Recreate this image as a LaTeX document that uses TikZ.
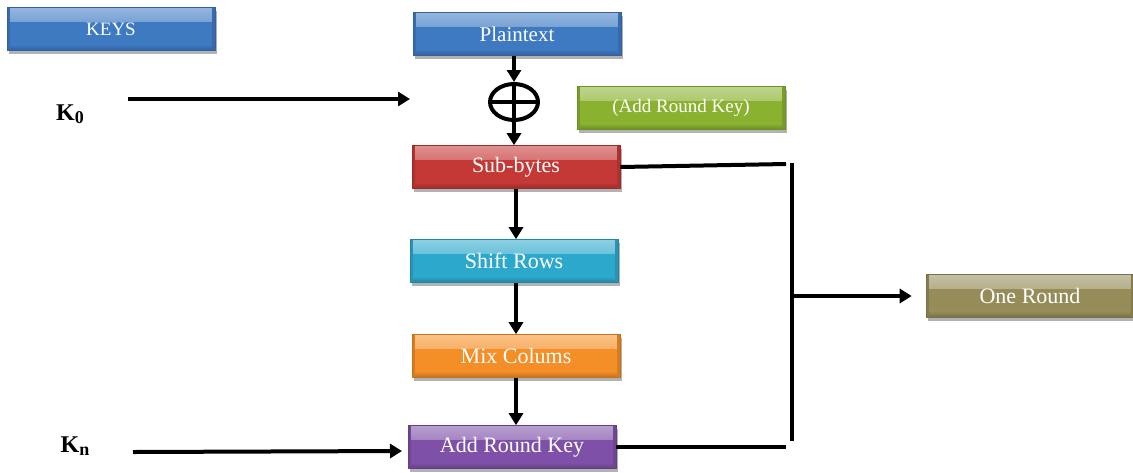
\documentclass[tikz,border=0pt]{standalone}
\usepackage{fontspec}
\setmainfont{Liberation Serif}
\usetikzlibrary{arrows.meta,shadows,shapes.geometric}

\definecolor{cblue}{RGB}{62,122,194}
\definecolor{cred}{RGB}{196,56,54}
\definecolor{ccyan}{RGB}{44,168,204}
\definecolor{corange}{RGB}{244,142,38}
\definecolor{cpurple}{RGB}{126,80,168}
\definecolor{cgreen}{RGB}{138,178,48}
\definecolor{colive}{RGB}{150,140,90}

\tikzset{
  stage/.style={rectangle, minimum width=104pt, minimum height=21.5pt,
    inner sep=0pt, text=white, font=\fontsize{11}{13}\selectfont,
    draw=#1!80!black, line width=0.3pt, fill=#1,
    path picture={
      \fill[top color=#1!55!white, bottom color=#1]
        (path picture bounding box.north west) rectangle
        ([yshift=-7pt]path picture bounding box.north east);
      \fill[top color=#1, bottom color=#1!78!black]
        ([yshift=3pt]path picture bounding box.south west) rectangle
        (path picture bounding box.south east);
      \fill[#1!88!black]
        (path picture bounding box.south west) rectangle
        ([xshift=1.5pt]path picture bounding box.north west);
      \fill[#1!88!black]
        (path picture bounding box.south east) rectangle
        ([xshift=-1.5pt]path picture bounding box.north east);
    },
    drop shadow={shadow xshift=1pt, shadow yshift=-1.5pt, opacity=0.3, fill=black}},
  flow/.style={line width=2pt, -{Triangle[length=6pt,width=7pt]}},
  bar/.style={line width=2pt},
  keylabel/.style={font=\fontsize{12}{14}\selectfont\bfseries, inner sep=0pt},
}

\begin{document}
\begin{tikzpicture}[x=0.5pt, y=-0.5pt]
  \useasboundingbox (0,0) rectangle (1133,472);

  % stage boxes
  \node[stage=cblue, font=\fontsize{9.5}{11}\selectfont] (keys) at (111,29) {KEYS};
  \node[stage=cblue, font=\fontsize{10.5}{12}\selectfont] (plain) at (517,34) {Plaintext};
  \node[stage=cgreen, font=\fontsize{9.5}{11}\selectfont] (ark0) at (681,108) {(Add Round Key)};
  \node[stage=cred]    (sub)   at (516,167) {Sub-bytes};
  \node[stage=ccyan]   (shift) at (514,261) {Shift Rows};
  \node[stage=corange] (mix)   at (516,356) {Mix Colums};
  \node[stage=cpurple] (ark)   at (512,447) {Add Round Key};
  \node[stage=colive]  (round) at (1030,296) {One Round};

  % XOR symbol
  \node[ellipse, draw, line width=2pt, minimum width=24pt, minimum height=18pt,
        inner sep=0pt] (xor) at (514,102) {};
  \draw[line width=2pt] (xor.north) -- (xor.south) (xor.west) -- (xor.east);

  % key labels
  \node[keylabel] (k0) at (70,114) {K\raisebox{-0.3ex}{\fontsize{9}{10}\selectfont 0}};
  \node[keylabel] (kn) at (75,446) {K\raisebox{-0.3ex}{\fontsize{9}{10}\selectfont n}};
  \coordinate (k0s) at (128,99);
  \coordinate (k0e) at (410,99);
  \coordinate (kns) at (133,452);
  \coordinate (kne) at (402,451);

  % main data path
  \draw[flow] (xor.north |- plain.south) -- (xor.north);
  \draw[flow] (xor.south) -- (xor.south |- sub.north);
  \draw[flow] (sub.south) -- (sub.south |- shift.north);
  \draw[flow] (mix.north |- shift.south) -- (mix.north);
  \draw[flow] (mix.south) -- (mix.south |- ark.north);

  % key inputs
  \draw[flow] (k0s) -- (k0e);
  \draw[flow] (kns) -- (kne);

  % bracket collecting one round
  \coordinate (bt) at (792,163);
  \coordinate (bb) at (792,441);
  \coordinate (bm) at (792,296);
  \draw[bar] (sub.east) -- (786,164);
  \draw[bar] (ark.east) -- (786,447);
  \draw[bar] (bt) -- (bb);
  \draw[flow, shorten >=7pt] (bm) -- (round.west);
\end{tikzpicture}
\end{document}
